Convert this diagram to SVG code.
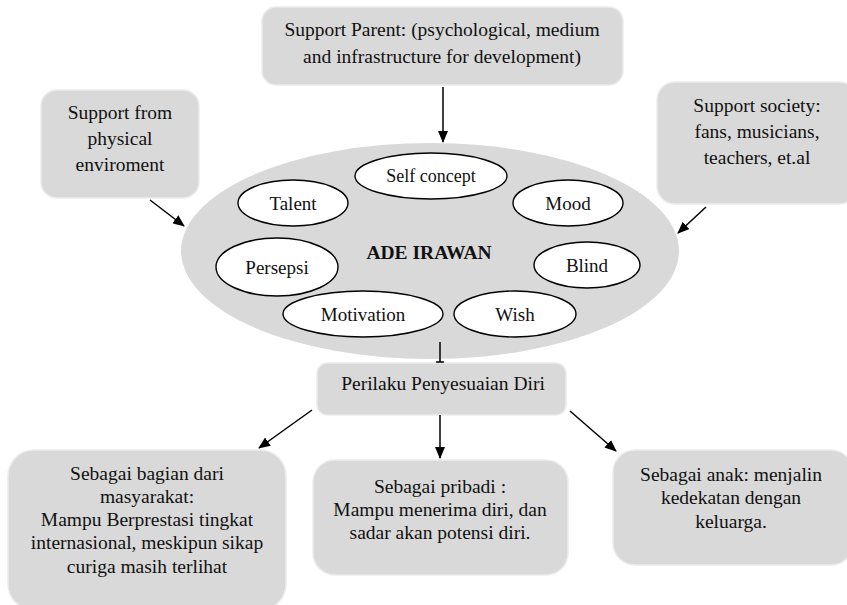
<svg xmlns="http://www.w3.org/2000/svg" width="847" height="605" viewBox="0 0 847 605" font-family="'Liberation Serif', 'DejaVu Serif', serif">
<style>
.box{fill:#d9d9d9;stroke:#ececec;stroke-width:1.5}
.big{fill:#d9d9d9;stroke:none}
.sm{fill:#ffffff;stroke:#000;stroke-width:1.4}
text{font-family:'Liberation Serif','DejaVu Serif',serif;font-size:19.5px;fill:#111;text-anchor:middle}
.e{font-size:19px}
.b{font-weight:bold}
.con line{stroke:#000;stroke-width:1.5}
</style>
<defs>
<marker id="ah" markerWidth="12" markerHeight="10" refX="11" refY="5" orient="auto" markerUnits="userSpaceOnUse">
<path d="M0,0 L12,5 L0,10 z" fill="#000"/>
</marker>
</defs>
<rect width="847" height="605" fill="#fff"/>
<g id="parent">
<rect class="box" x="262" y="7" width="361" height="78" rx="14"/>
<text x="442" y="36">Support Parent: (psychological, medium</text>
<text x="442" y="63">and infrastructure for development)</text>
</g>
<g id="physical">
<rect class="box" x="41" y="90" width="158" height="108" rx="16"/>
<text x="120" y="119">Support from</text>
<text x="120" y="145">physical</text>
<text x="120" y="171">enviroment</text>
</g>
<g id="society">
<rect class="box" x="657" y="82" width="200" height="122" rx="18"/>
<text x="757" y="112">Support society:</text>
<text x="757" y="138">fans, musicians,</text>
<text x="757" y="164">teachers, et.al</text>
</g>
<g id="ade">
<ellipse class="big" cx="430" cy="251" rx="249" ry="108"/>
<text class="b" x="429" y="259">ADE IRAWAN</text>
</g>
<g id="selfconcept">
<ellipse class="sm" cx="431" cy="176" rx="76" ry="23"/>
<text class="e" x="431" y="182" style="font-size:18px">Self concept</text>
</g>
<g id="talent">
<ellipse class="sm" cx="293" cy="203" rx="55" ry="23"/>
<text class="e" x="293" y="210">Talent</text>
</g>
<g id="mood">
<ellipse class="sm" cx="568" cy="203" rx="55" ry="23"/>
<text class="e" x="568" y="210">Mood</text>
</g>
<g id="persepsi">
<ellipse class="sm" cx="277" cy="267" rx="61" ry="29"/>
<text class="e" x="277" y="274">Persepsi</text>
</g>
<g id="blind">
<ellipse class="sm" cx="587" cy="265" rx="53" ry="23"/>
<text class="e" x="587" y="272">Blind</text>
</g>
<g id="motivation">
<ellipse class="sm" cx="363" cy="314" rx="80" ry="23"/>
<text class="e" x="363" y="321">Motivation</text>
</g>
<g id="wish">
<ellipse class="sm" cx="515" cy="314" rx="61" ry="23"/>
<text class="e" x="515" y="321">Wish</text>
</g>
<g id="perilaku">
<rect class="box" x="317" y="363" width="249" height="52" rx="10"/>
<text x="443" y="390">Perilaku Penyesuaian Diri</text>
</g>
<g id="masyarakat">
<rect class="box" x="8" y="450" width="278" height="160" rx="26"/>
<text x="147" y="480">Sebagai bagian dari</text>
<text x="147" y="503">masyarakat:</text>
<text x="147" y="526">Mampu Berprestasi tingkat</text>
<text x="147" y="549">internasional, meskipun sikap</text>
<text x="147" y="573">curiga masih terlihat</text>
</g>
<g id="pribadi">
<rect class="box" x="313" y="460" width="255" height="115" rx="22"/>
<text x="440" y="493">Sebagai pribadi :</text>
<text x="440" y="516">Mampu menerima diri, dan</text>
<text x="440" y="539">sadar akan potensi diri.</text>
</g>
<g id="anak">
<rect class="box" x="613" y="450" width="240" height="115" rx="22"/>
<text x="731" y="481">Sebagai anak: menjalin</text>
<text x="731" y="504">kedekatan dengan</text>
<text x="731" y="528">keluarga.</text>
</g>
<g id="connectors" class="con">
<line x1="443" y1="87" x2="443" y2="142" marker-end="url(#ah)"/>
<line x1="150" y1="200" x2="184" y2="226" marker-end="url(#ah)"/>
<line x1="706" y1="207" x2="678" y2="233" marker-end="url(#ah)"/>
<line x1="440" y1="342" x2="440" y2="362"/>
<line x1="436" y1="362" x2="444" y2="362"/>
<line x1="312" y1="410" x2="259" y2="448" marker-end="url(#ah)"/>
<line x1="440" y1="415" x2="440" y2="458" marker-end="url(#ah)"/>
<line x1="570" y1="411" x2="616" y2="451" marker-end="url(#ah)"/>
</g>
</svg>
